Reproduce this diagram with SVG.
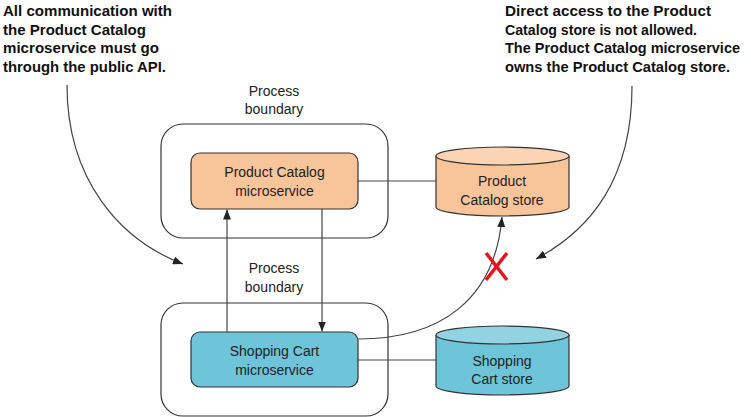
<svg xmlns="http://www.w3.org/2000/svg" width="751" height="417" viewBox="0 0 751 417">
<defs>
<style>
.note{font-family:"Liberation Sans",Arial,sans-serif;font-weight:bold;font-size:15px;fill:#111}
.lbl{font-family:"Liberation Sans",Arial,sans-serif;font-size:14px;fill:#222;text-anchor:middle}
.bound{fill:#fff;stroke:#333;stroke-width:1.2}
.pc{fill:#F8C49A;stroke:#333;stroke-width:1.2}
.pctop{fill:#FAD4B5;stroke:#333;stroke-width:1.2}
.sc{fill:#6EC4D8;stroke:#333;stroke-width:1.2}
.sctop{fill:#92D2E1;stroke:#333;stroke-width:1.2}
.ln{fill:none;stroke:#444;stroke-width:1.2}
</style>
<marker id="ah" viewBox="0 0 10 8" refX="10" refY="4" markerWidth="10" markerHeight="8" markerUnits="userSpaceOnUse" orient="auto">
<path d="M0,0 L10,4 L0,8 Z" fill="#222"/>
</marker>
</defs>

<g id="note-left">
<text class="note" x="3" y="16" textLength="169" lengthAdjust="spacingAndGlyphs">All communication with</text>
<text class="note" x="3" y="35" textLength="143" lengthAdjust="spacingAndGlyphs">the Product Catalog</text>
<text class="note" x="3" y="53" textLength="156" lengthAdjust="spacingAndGlyphs">microservice must go</text>
<text class="note" x="3" y="72" textLength="163" lengthAdjust="spacingAndGlyphs">through the public API.</text>
</g>
<g id="note-right">
<text class="note" x="505" y="16" textLength="206" lengthAdjust="spacingAndGlyphs">Direct access to the Product</text>
<text class="note" x="505" y="35" textLength="192" lengthAdjust="spacingAndGlyphs">Catalog store is not allowed.</text>
<text class="note" x="505" y="53" textLength="235" lengthAdjust="spacingAndGlyphs">The Product Catalog microservice</text>
<text class="note" x="505" y="72" textLength="225" lengthAdjust="spacingAndGlyphs">owns the Product Catalog store.</text>
</g>

<g id="boundary-top">
<rect class="bound" x="161" y="124" width="227" height="114" rx="22"/>
<text class="lbl" x="274" y="96">Process</text>
<text class="lbl" x="274" y="114">boundary</text>
</g>
<g id="boundary-bottom">
<rect class="bound" x="161" y="303" width="227" height="113" rx="22"/>
<text class="lbl" x="274" y="273">Process</text>
<text class="lbl" x="274" y="292">boundary</text>
</g>

<g id="connectors">
<path class="ln" d="M358,181 L436,181"/>
<path class="ln" d="M358,360 L436,360"/>
<path class="ln" d="M227,332 L227,209.5" marker-end="url(#ah)"/>
<path class="ln" d="M322,209 L322,331.5" marker-end="url(#ah)"/>
<path class="ln" d="M358,339 C440,339 495,300 502,217" marker-end="url(#ah)"/>
<path class="ln" d="M67,85 C67,180 120,240 183,264" marker-end="url(#ah)"/>
<path class="ln" d="M632,86 C632,180 590,230 536,259" marker-end="url(#ah)"/>
</g>

<g id="product-catalog-ms">
<rect class="pc" x="191" y="153" width="167" height="56" rx="9"/>
<text class="lbl" x="274.5" y="177">Product Catalog</text>
<text class="lbl" x="274.5" y="196">microservice</text>
</g>
<g id="shopping-cart-ms">
<rect class="sc" x="191" y="332" width="167" height="55" rx="9"/>
<text class="lbl" x="274.5" y="356">Shopping Cart</text>
<text class="lbl" x="274.5" y="375">microservice</text>
</g>

<g id="product-catalog-store">
<path class="pc" d="M436,156 L436,207 A66.5,9 0 0 0 569,207 L569,156"/>
<ellipse class="pctop" cx="502.5" cy="156" rx="66.5" ry="9"/>
<text class="lbl" x="502" y="186">Product</text>
<text class="lbl" x="502" y="205">Catalog store</text>
</g>
<g id="shopping-cart-store">
<path class="sc" d="M436,335 L436,386 A66.5,9 0 0 0 569,386 L569,335"/>
<ellipse class="sctop" cx="502.5" cy="335" rx="66.5" ry="9"/>
<text class="lbl" x="502" y="366">Shopping</text>
<text class="lbl" x="502" y="384">Cart store</text>
</g>

<g id="forbidden-mark">
<path d="M486,253 L507,280 M507,253 L486,280" stroke="#E8141B" stroke-width="3.5" fill="none"/>
</g>
</svg>
